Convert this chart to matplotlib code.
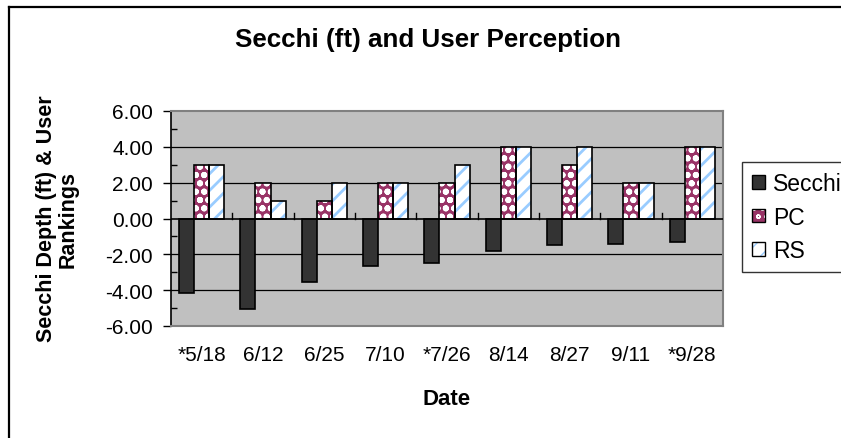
import matplotlib
matplotlib.use("Agg")
import matplotlib.pyplot as plt
import numpy as np
from matplotlib.patches import Patch
from matplotlib.lines import Line2D

dates = ["*5/18", "6/12", "6/25", "7/10", "*7/26", "8/14", "8/27", "9/11", "*9/28"]
secchi = [-4.15, -5.03, -3.56, -2.66, -2.48, -1.79, -1.49, -1.40, -1.30]
pc = [3, 2, 1, 2, 2, 4, 3, 2, 4]
rs = [3, 1, 2, 2, 3, 4, 4, 2, 4]
yticks = [-6, -4, -2, 0, 2, 4, 6]

plt.rcParams['font.family'] = ['Liberation Sans', 'DejaVu Sans']

W, H = 841, 439
fig = plt.figure(figsize=(W / 100, H / 100), dpi=100)
L, R, T, B = 171, 723, 112, 327
ax = fig.add_axes([L / W, 1 - B / H, (R - L) / W, (B - T) / H])
ax.set_facecolor('#C0C0C0')

x = np.arange(len(dates)) + 0.5
bw = 0.245
SEC_C = '#333333'
PC_C = '#993366'
RS_C = '#99CCFF'

ax.bar(x - bw, secchi, bw, color=SEC_C, edgecolor='black', linewidth=1.2, zorder=3)
with plt.rc_context({'hatch.linewidth': 2.0}):
    ax.bar(x, pc, bw, color=PC_C, edgecolor='white', hatch='oo', linewidth=0, zorder=3)
    ax.bar(x + bw, rs, bw, color='white', edgecolor=RS_C, hatch='//', linewidth=0, zorder=3)
ax.bar(x, pc, bw, fill=False, edgecolor='black', linewidth=1.2, zorder=4)
ax.bar(x + bw, rs, bw, fill=False, edgecolor='black', linewidth=1.2, zorder=4)

ax.set_xlim(0, len(dates))
ax.set_ylim(-6, 6)
for yv in [-4, -2, 2, 4]:
    ax.axhline(yv, color='black', linewidth=0.9, zorder=1)
ax.axhline(0, color='black', linewidth=1.2, zorder=5)
for xv in range(1, len(dates)):
    ax.plot([xv, xv], [0, 0.33], color='black', linewidth=1.0, zorder=5)

ax.set_yticks(yticks)
ax.set_yticklabels([f"{v:.2f}" for v in yticks], fontsize=15)
ax.set_yticks(np.arange(-5, 6, 2), minor=True)
ax.tick_params(axis='y', which='major', direction='out', length=5.8, width=1, pad=7)
ax.tick_params(axis='y', which='minor', direction='in', length=4.0, width=1)
ax.set_xticks(x)
ax.set_xticklabels(dates, fontsize=15)
ax.tick_params(axis='x', length=0, pad=14)

for s in ['top', 'right', 'bottom']:
    ax.spines[s].set_color('#808080')
    ax.spines[s].set_linewidth(1.5)
ax.spines['left'].set_color('black')
ax.spines['left'].set_linewidth(1.2)

fig.text(428 / W, 1 - 40 / H, "Secchi (ft) and User Perception", ha='center', va='center',
         fontsize=18.7, fontweight='bold')
fig.text(447 / W, 1 - 400 / H, "Date", ha='center', va='center',
         fontsize=16, fontweight='bold')
fig.text(57 / W, 1 - 219 / H, "Secchi Depth (ft) & User\nRankings", ha='center', va='center',
         rotation=90, fontsize=15.5, fontweight='bold', linespacing=1.05)

h_sec = Patch(facecolor=SEC_C, edgecolor='black', linewidth=1.0)
with plt.rc_context({'hatch.linewidth': 2.0}):
    h_pc = (Patch(facecolor=PC_C, edgecolor='white', hatch='oo', linewidth=0),
            Patch(fill=False, edgecolor='black', linewidth=1.0))
    h_rs = (Patch(facecolor='white', edgecolor=RS_C, hatch='//', linewidth=0),
            Patch(fill=False, edgecolor='black', linewidth=1.0))
leg = fig.legend([h_sec, h_pc, h_rs], ["Secchi", "PC", "RS"],
                 loc='upper left', bbox_to_anchor=(742 / W, 1 - 163 / H),
                 fontsize=16.5, frameon=True, fancybox=False, edgecolor='black',
                 handlelength=0.55, handleheight=0.55, handletextpad=0.35,
                 labelspacing=0.45, borderpad=0.45, borderaxespad=0)
leg.get_frame().set_linewidth(1.0)

fig.add_artist(Line2D([8.5 / W, 8.5 / W], [-0.05, 1 - 7.5 / H], transform=fig.transFigure,
                      color='black', linewidth=1.6))
fig.add_artist(Line2D([8.5 / W, 1.05], [1 - 7.5 / H, 1 - 7.5 / H], transform=fig.transFigure,
                      color='black', linewidth=1.6))

fig.savefig("out.png", dpi=100)
